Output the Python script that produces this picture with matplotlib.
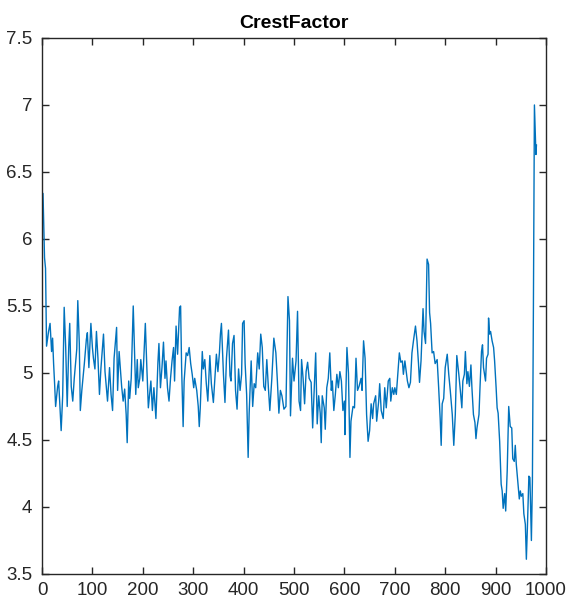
import matplotlib
matplotlib.use("Agg")
import matplotlib.pyplot as plt
from matplotlib.ticker import FuncFormatter, MultipleLocator

# sample index / crest factor values
idx = [0, 2, 5, 7, 9, 13, 16, 19, 21, 23, 25, 27, 31, 33, 38, 41, 44, 47, 50, 53,
       55, 58, 61, 64, 69, 71, 74, 76, 79, 84, 88, 90, 93, 97, 100, 102, 105, 108, 111, 114,
       117, 122, 125, 130, 134, 137, 140, 143, 148, 150, 153, 158, 161, 164, 167, 169, 172, 174, 177, 181,
       184, 186, 189, 191, 194, 196, 200, 205, 208, 211, 216, 219, 222, 226, 230, 232, 235, 238, 241, 244,
       246, 249, 252, 255, 258, 261, 263, 266, 269, 273, 275, 277, 280, 282, 286, 289, 292, 295, 298, 301,
       303, 307, 310, 312, 314, 318, 320, 323, 326, 329, 331, 333, 336, 340, 343, 346, 349, 352, 354, 356,
       360, 363, 366, 370, 373, 375, 378, 381, 384, 387, 390, 393, 396, 398, 401, 403, 406, 409, 411, 415,
       418, 421, 424, 428, 431, 434, 437, 440, 443, 446, 449, 452, 456, 460, 464, 467, 470, 473, 476, 480,
       484, 488, 491, 493, 497, 500, 504, 507, 510, 513, 515, 518, 521, 524, 527, 530, 534, 537, 540, 543,
       546, 549, 552, 554, 556, 560, 562, 565, 568, 571, 574, 576, 579, 582, 585, 588, 591, 594, 597, 600,
       601, 605, 608, 611, 613, 617, 620, 623, 626, 629, 633, 635, 638, 641, 644, 647, 650, 653, 656, 658,
       662, 664, 668, 670, 673, 677, 680, 683, 687, 690, 692, 695, 698, 700, 703, 705, 709, 712, 715, 717,
       720, 723, 725, 728, 731, 734, 737, 741, 744, 747, 749, 752, 755, 756, 758, 761, 764, 767, 769, 771,
       774, 777, 780, 784, 787, 790, 792, 794, 797, 800, 804, 807, 810, 814, 817, 820, 823, 827, 830, 833,
       835, 838, 840, 843, 845, 848, 851, 853, 856, 859, 861, 863, 867, 869, 872, 874, 876, 880, 882, 885,
       886, 888, 890, 893, 896, 898, 901, 903, 905, 908, 911, 913, 915, 918, 920, 923, 926, 929, 932, 934,
       937, 939, 941, 944, 947, 949, 951, 954, 956, 959, 961, 963, 966, 968, 971, 973, 975, 977, 979, 980,
       981]

crest = [6.11, 6.34, 5.86, 5.78, 5.20, 5.31, 5.37, 5.16, 5.26, 5.07, 4.92, 4.75, 4.90, 4.94, 4.57, 4.83, 5.49, 5.19, 4.75, 5.19,
         5.37, 4.90, 4.79, 4.96, 5.18, 5.54, 5.22, 4.72, 4.87, 5.07, 5.25, 5.30, 5.04, 5.37, 5.19, 5.11, 5.03, 5.31, 5.11, 4.84,
         5.04, 5.29, 5.01, 4.79, 5.04, 4.84, 4.72, 5.11, 5.34, 4.87, 5.16, 4.90, 4.79, 4.88, 4.69, 4.48, 4.94, 4.81, 4.96, 5.50,
         5.09, 4.84, 5.10, 4.89, 4.96, 5.10, 4.94, 5.37, 5.04, 4.74, 4.94, 4.72, 4.89, 4.66, 5.08, 5.22, 4.89, 5.04, 5.23, 4.96,
         5.09, 4.89, 4.79, 4.96, 5.09, 5.19, 4.94, 5.35, 5.14, 5.49, 5.50, 5.04, 4.60, 4.94, 5.15, 5.13, 5.19, 5.07, 4.99, 4.89,
         4.96, 4.87, 4.75, 4.60, 4.74, 5.16, 5.03, 5.10, 4.92, 4.79, 4.96, 5.13, 4.92, 4.78, 4.96, 5.14, 5.01, 5.15, 5.29, 5.37,
         4.99, 4.78, 5.11, 5.32, 4.98, 4.94, 5.22, 5.28, 4.87, 4.73, 5.03, 4.87, 4.99, 5.37, 5.39, 5.07, 4.84, 4.37, 4.70, 5.09,
         4.75, 4.92, 4.89, 5.15, 5.03, 5.29, 5.19, 4.90, 4.87, 5.10, 4.90, 4.72, 4.96, 5.26, 5.15, 4.94, 4.70, 4.87, 4.83, 4.73,
         4.75, 5.57, 5.39, 4.68, 5.11, 4.94, 5.09, 5.46, 4.79, 4.72, 5.10, 4.96, 4.77, 5.01, 5.08, 4.96, 4.93, 4.59, 4.87, 5.15,
         4.62, 4.83, 4.70, 4.48, 4.83, 4.74, 4.58, 4.89, 4.96, 5.15, 4.87, 4.94, 4.72, 4.84, 4.99, 4.89, 5.01, 4.94, 4.72, 4.79,
         4.54, 5.19, 5.00, 4.37, 4.64, 4.75, 4.74, 5.11, 4.87, 4.90, 4.96, 4.87, 5.24, 5.11, 4.69, 4.49, 4.57, 4.77, 4.66, 4.77,
         4.83, 4.64, 4.79, 4.92, 4.72, 4.66, 4.89, 4.74, 4.94, 4.96, 4.79, 4.89, 4.84, 4.89, 4.84, 4.94, 5.15, 5.08, 5.09, 4.99,
         5.09, 5.00, 4.94, 4.89, 4.93, 5.15, 5.24, 5.35, 5.24, 5.07, 4.93, 5.09, 5.37, 5.48, 5.31, 5.22, 5.85, 5.81, 5.45, 5.37,
         5.15, 5.16, 5.07, 5.10, 4.89, 4.66, 4.46, 4.77, 4.81, 5.04, 5.14, 4.99, 4.87, 4.69, 4.46, 4.69, 5.13, 4.99, 4.87, 4.74,
         4.94, 4.99, 5.16, 4.92, 5.01, 4.90, 5.06, 4.89, 4.69, 4.63, 4.51, 4.59, 4.69, 4.89, 5.16, 5.21, 5.04, 4.94, 5.11, 5.14,
         5.41, 5.29, 5.31, 5.24, 5.19, 5.09, 4.89, 4.74, 4.70, 4.49, 4.17, 4.12, 3.99, 4.10, 3.97, 4.27, 4.75, 4.60, 4.59, 4.36,
         4.34, 4.46, 4.32, 4.19, 4.06, 4.12, 4.08, 4.10, 3.95, 3.87, 3.61, 3.84, 4.23, 4.22, 3.75, 4.19, 5.50, 7.00, 6.75, 6.63,
         6.70]

x_ticks = list(range(0, 1001, 100))

plt.rcParams['font.family'] = ['Liberation Sans Narrow', 'Liberation Sans', 'DejaVu Sans']

fig = plt.figure(figsize=(5.77, 6.12), dpi=100)
ax = fig.add_axes([0.0728, 0.0621, 0.8735, 0.8759])

ax.plot(idx, crest, color='#0072BD', linewidth=1.0)

ax.set_xlim(0, 1000)
ax.set_ylim(3.5, 7.5)
ax.set_xticks(x_ticks)
ax.yaxis.set_major_locator(MultipleLocator(0.5))
ax.yaxis.set_major_formatter(FuncFormatter(lambda v, p: f'{v:g}'))

# matlab-like box with inward ticks on all sides
ax.tick_params(direction='in', top=True, right=True, length=5, width=1,
               colors='#262626', labelsize=13.5, labelcolor='#262626')
ax.tick_params(axis='x', pad=6)
ax.tick_params(axis='y', pad=7)
for s in ax.spines.values():
    s.set_color('#262626')
    s.set_linewidth(1)

ax.set_title('CrestFactor', fontsize=14, fontweight='bold', color='black', pad=7)

fig.savefig('out.png', dpi=100)
plt.close(fig)
